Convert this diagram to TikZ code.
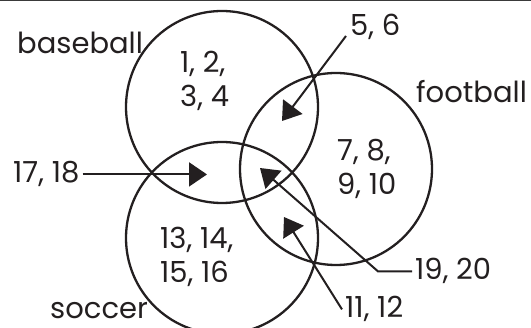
\documentclass[tikz,border=0pt]{standalone}
\usepackage{fontspec}
\setmainfont{Poppins}[Numbers=Monospaced]
\usepackage{xcolor}
\definecolor{ink}          {HTML}{231F20}
\definecolor{rulegray}     {HTML}{3A3A3A}
\usetikzlibrary{arrows.meta, positioning, calc}

\begin{document}
\begin{tikzpicture}[x=1pt, y=-1pt,
    every node/.style={inner sep=0pt, text=ink,
                       font=\fontsize{29}{34}\selectfont},
    ring/.style={circle, draw=ink, line width=2.3pt, minimum size=192pt},
    tag/.style={anchor=base west},
    pointer/.style={draw=ink, line width=2pt,
                    -{Triangle[length=18pt, width=24pt]}}]

    \useasboundingbox (0,0) rectangle (531,328);
    \clip (0,0) rectangle (531,328);
    \draw[rulegray, line width=2.5pt] (0,0) -- (531,0);

    % --- The three sets.
    \node[ring] (baseball) at (222,107) {};
    \node[ring] (football) at (336,169) {};
    \node[ring] (soccer)   at (222,238) {};

    \node[tag] (lbase) at (17,54)   {baseball};
    \node[tag] (lfoot) at (416,103) {football};
    \node[tag, text depth=0pt] (lsoc) at (50,319) {soccer};

    % --- Numbers inside single regions.
    \node[anchor=west, align=left] (r1) at (180,81)  {1, 2,\\3, 4};
    \node[anchor=west, align=left] (r2) at (337,169) {7, 8,\\9, 10};
    \node[anchor=west, align=left] (r3) at (160,257) {13, 14,\\15, 16};

    % --- Numbers pointing into the overlaps.
    \node[tag] (n56)   at (350,36)  {5, 6};
    \node[tag] (n1718) at (13,183)  {17, 18};
    \node[tag] (n1920) at (415,280) {19, 20};
    \node[tag] (n1112) at (345,318) {11, 12};

    \coordinate (t56)   at (282,121);
    \coordinate (t1718) at (207,173);
    \coordinate (k1920) at (378,270);
    \coordinate (t1920) at (260,168);
    \coordinate (t1112) at (284,217);

    \draw[pointer] ([xshift=-4pt]n56.base west) -- (t56);
    \draw[pointer] ([xshift=3pt]n1718.east) -- (n1718.east -| t1718);
    \draw[pointer] ([xshift=-3pt]n1920.west) -- (k1920 |- n1920.west) -- (t1920);
    \draw[pointer] ([xshift=-3pt]n1112.west) -- (t1112);
\end{tikzpicture}
\end{document}
